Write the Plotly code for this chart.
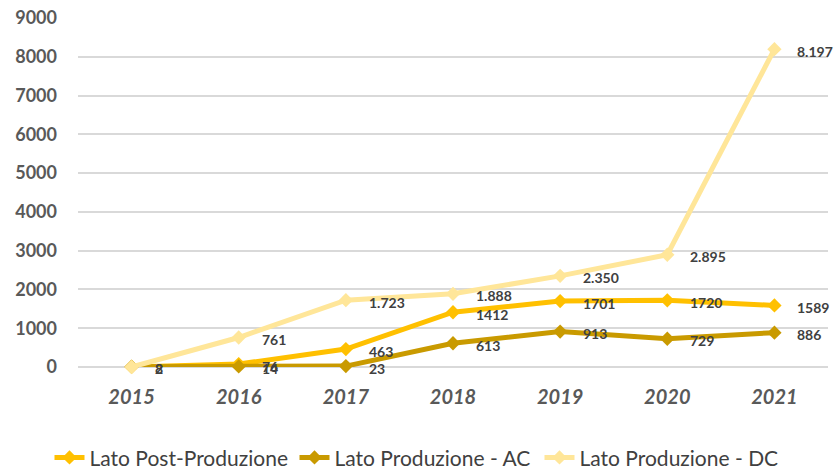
import plotly.graph_objects as go

years = ["2015", "2016", "2017", "2018", "2019", "2020", "2021"]
post_prod = [2, 76, 463, 1412, 1701, 1720, 1589]
prod_ac = [8, 14, 23, 613, 913, 729, 886]
prod_dc = [0, 761, 1723, 1888, 2350, 2895, 8197]
dc_labels = ["", "761", "1.723", "1.888", "2.350", "2.895", "8.197"]

series = [
    ("Lato Post-Produzione", post_prod, [str(v) for v in post_prod], "#FFC000"),
    ("Lato Produzione - AC", prod_ac, [str(v) for v in prod_ac], "#C99A00"),
    ("Lato Produzione - DC", prod_dc, dc_labels, "#FFE699"),
]

fig = go.Figure()
annotations = []
for name, vals, labels, color in series:
    fig.add_trace(go.Scatter(
        x=years, y=vals, name=name, mode="lines+markers",
        line=dict(color=color, width=5),
        marker=dict(symbol="diamond", size=11, color=color),
        cliponaxis=False,
    ))
for name, vals, labels, color in series[::-1]:
    for i, (v, t) in enumerate(zip(vals, labels)):
        if t:
            annotations.append(dict(
                x=i, y=v, text="<b>" + t + "</b>", showarrow=False,
                xanchor="left", yanchor="middle", xshift=21, yshift=-2,
                font=dict(family="Lato", size=14, color="#404040"),
            ))

fig.update_layout(
    width=834, height=471,
    margin=dict(l=78, r=6, t=18, b=104, autoexpand=False),
    paper_bgcolor="white", plot_bgcolor="white",
    font=dict(family="Lato", color="#595959"),
    showlegend=True,
    legend=dict(orientation="h", xref="container", x=0.5, xanchor="center",
                yref="paper", y=-0.26, yanchor="middle",
                font=dict(size=21, color="#404040"), traceorder="normal",
                itemwidth=30, entrywidth=200),
    annotations=annotations,
)
fig.update_xaxes(
    type="category", range=[-0.5, 6.5], showgrid=False, showline=False, zeroline=False,
    ticks="", ticklabelstandoff=16,
    tickfont=dict(family="Lato", size=20, color="#595959", weight="bold", style="italic"),
)
fig.update_yaxes(
    range=[0, 9000], tickvals=list(range(0, 9001, 1000)),
    showgrid=True, gridcolor="#D9D9D9", gridwidth=1.5,
    zeroline=True, zerolinecolor="#D9D9D9", zerolinewidth=1.5,
    ticks="", ticklabelstandoff=20,
    tickfont=dict(family="Lato", size=18, color="#595959", weight="bold"),
)

fig.write_html("out.html", config={"displayModeBar": False},
               post_script="document.body.style.margin='0';document.body.style.padding='0';")
